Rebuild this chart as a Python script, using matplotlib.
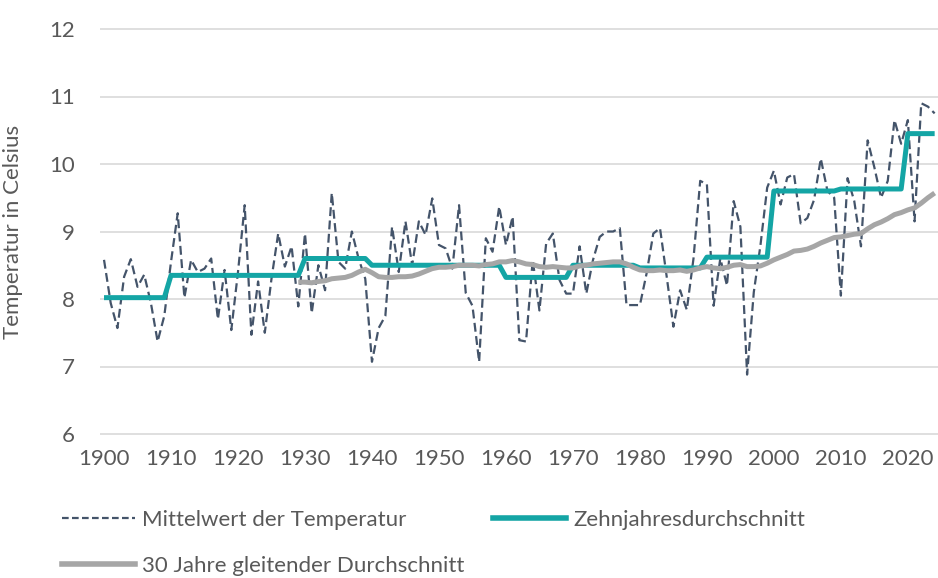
import matplotlib
matplotlib.use("Agg")
import matplotlib.pyplot as plt
from matplotlib.lines import Line2D

plt.rcParams['font.family'] = ['Lato', 'DejaVu Sans']

# annual mean temperature, 1900-2024
years = list(range(1900, 2025))
annual_temp = [
    8.58, 7.94, 7.57, 8.33, 8.59, 8.18, 8.36, 7.94, 7.37, 7.75,
    8.55, 9.27, 8.02, 8.58, 8.40, 8.45, 8.60, 7.70, 8.43, 7.54,
    8.40, 9.39, 7.47, 8.26, 7.50, 8.30, 8.97, 8.48, 8.78, 7.89,
    8.97, 7.79, 8.50, 8.13, 9.57, 8.55, 8.45, 9.00, 8.60, 8.30,
    7.07, 7.57, 7.75, 9.07, 8.40, 9.15, 8.50, 9.15, 8.95, 9.49,
    8.80, 8.75, 8.45, 9.39, 8.09, 7.90, 7.07, 8.90, 8.70, 9.37,
    8.80, 9.22, 7.39, 7.37, 8.58, 7.83, 8.82, 8.97, 8.28, 8.08,
    8.08, 8.78, 8.08, 8.58, 8.92, 9.00, 9.00, 9.05, 7.91, 7.91,
    7.91, 8.38, 8.97, 9.05, 8.33, 7.59, 8.13, 7.84, 8.60, 9.75,
    9.70, 7.90, 8.60, 8.20, 9.45, 9.07, 6.88, 8.10, 8.80, 9.65,
    9.90, 9.40, 9.80, 9.85, 9.12, 9.20, 9.47, 10.08, 9.60, 9.50,
    8.05, 9.79, 9.45, 8.78, 10.35, 9.95, 9.50, 9.75, 10.65, 10.30,
    10.65, 9.15, 10.90, 10.85, 10.75,
]

# ten-year means per decade (1900s ... 2020s)
decade_start = [1900, 1910, 1920, 1930, 1940, 1950, 1960, 1970, 1980, 1990, 2000, 2010, 2020]
decade_mean = [8.02, 8.35, 8.35, 8.60, 8.50, 8.50, 8.32, 8.50, 8.46, 8.62, 9.60, 9.63, 10.45]

# 30-year moving average, 1929-2024
ma_years = list(range(1929, 2025))
ma_temp = [
    8.25,
    8.25, 8.24, 8.26, 8.27, 8.30, 8.31, 8.32, 8.35, 8.40, 8.44,
    8.39, 8.33, 8.32, 8.32, 8.33, 8.33, 8.34, 8.37, 8.41, 8.45,
    8.47, 8.47, 8.48, 8.50, 8.50, 8.50, 8.49, 8.51, 8.52, 8.55,
    8.55, 8.57, 8.55, 8.52, 8.51, 8.48, 8.47, 8.48, 8.47, 8.46,
    8.46, 8.49, 8.50, 8.52, 8.53, 8.54, 8.55, 8.55, 8.52, 8.47,
    8.43, 8.42, 8.42, 8.43, 8.42, 8.42, 8.43, 8.41, 8.43, 8.46,
    8.48, 8.46, 8.45, 8.47, 8.50, 8.51, 8.48, 8.48, 8.49, 8.53,
    8.58, 8.62, 8.66, 8.71, 8.72, 8.74, 8.78, 8.83, 8.87, 8.91,
    8.92, 8.94, 8.96, 8.97, 9.04, 9.10, 9.14, 9.19, 9.25, 9.28,
    9.32, 9.35, 9.42, 9.50, 9.57,
]

decade_line = [decade_mean[decade_start.index(y - y % 10)] for y in years]

col_dash = '#44546A'
col_teal = '#14A5A5'
col_gray = '#A6A6A6'
col_text = '#595959'

fig = plt.figure(figsize=(9.38, 5.78), dpi=100)
ppu = 67.5
ax = fig.add_axes([100 / 938, (144 - 0.02 * ppu) / 578, 838 / 938, (405 + 0.04 * ppu) / 578])
ax.set_xlim(1899.4, 2024.5)
ax.set_ylim(5.98, 12.02)

ax.plot(years, annual_temp, color=col_dash, lw=1.6, dashes=(4, 2), zorder=2)
ax.plot(years, decade_line, color=col_teal, lw=3.6, solid_capstyle='butt', zorder=3)
ax.plot(ma_years, ma_temp, color=col_gray, lw=3.6, solid_capstyle='butt', zorder=4)

ax.set_yticks(range(6, 13))
ax.set_xticks(range(1900, 2021, 10))
ax.grid(axis='y', color='#D9D9D9', lw=1.2, zorder=0)
ax.set_axisbelow(True)
for s in ax.spines.values():
    s.set_visible(False)
ax.tick_params(axis='both', length=0, labelsize=16, labelcolor=col_text)
ax.tick_params(axis='y', pad=18)
ax.tick_params(axis='x', pad=10)

ax.set_ylabel('Temperatur in Celsius', fontsize=16, color=col_text)
ax.yaxis.set_label_coords(-0.092, 0.5)

h_dash = Line2D([], [], color=col_dash, lw=1.6, dashes=(3, 1.5))
h_teal = Line2D([], [], color=col_teal, lw=4)
h_gray = Line2D([], [], color=col_gray, lw=4)

leg_kw = dict(frameon=False, fontsize=16, handlelength=3.3, handletextpad=0.3,
              borderpad=0, borderaxespad=0, loc='upper left', labelcolor=col_text)
fig.legend([h_dash, h_gray], ['Mittelwert der Temperatur', '30 Jahre gleitender Durchschnitt'],
           bbox_to_anchor=(62 / 938, 1 - 510 / 578), labelspacing=1.15, **leg_kw)
fig.legend([h_teal], ['Zehnjahresdurchschnitt'],
           bbox_to_anchor=(493 / 938, 1 - 510 / 578), **leg_kw)

fig.savefig('out.png', dpi=100)
